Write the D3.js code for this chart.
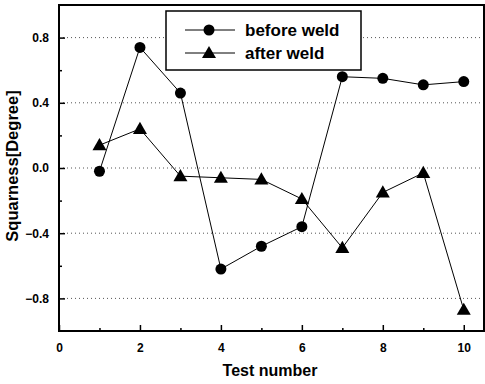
<!DOCTYPE html>
<meta charset="utf-8">
<style>
 body { margin: 0; background: #fff; }
 svg { display: block; font-family: 'Liberation Sans', Arial, sans-serif; }
 .tick text { font-size: 12px; font-weight: bold; fill: #000; }
</style>
<svg width="485" height="384"></svg>
<script src="https://d3js.org/d3.v7.min.js"></script>
<script>
 var testNumber = [1, 2, 3, 4, 5, 6, 7, 8, 9, 10];
 var beforeWeld = [-0.02, 0.74, 0.46, -0.62, -0.48, -0.36, 0.56, 0.55, 0.51, 0.53];
 var afterWeld = [0.14, 0.24, -0.05, -0.06, -0.07, -0.19, -0.49, -0.15, -0.03, -0.87];
 var xTicks = [0, 2, 4, 6, 8, 10];
 var yTicks = [-0.8, -0.4, 0.0, 0.4, 0.8];

 var svg = d3.select('svg');
 var m = {left: 59, right: 484, top: 5, bottom: 331};

 var x = d3.scaleLinear().domain([0, 10.5]).range([m.left, m.right]);
 var y = d3.scaleLinear().domain([-1, 1]).range([m.bottom, m.top]);

 // dotted grid at major y ticks
 svg.append('g').selectAll('line').data(yTicks).join('line')
     .attr('x1', m.left).attr('x2', m.right)
     .attr('y1', d => y(d)).attr('y2', d => y(d))
     .attr('stroke', '#555').attr('stroke-width', 1)
     .attr('stroke-dasharray', '1,3');

 // frame
 svg.append('rect')
     .attr('x', m.left).attr('y', m.top)
     .attr('width', m.right - m.left).attr('height', m.bottom - m.top)
     .attr('fill', 'none').attr('stroke', '#000').attr('stroke-width', 2);

 // axes, ticks pointing inward
 svg.append('g').attr('transform', 'translate(0,' + m.bottom + ')')
     .call(d3.axisBottom(x).tickValues(xTicks).tickFormat(d3.format('d')).tickSizeInner(-6).tickSizeOuter(0).tickPadding(12));
 svg.append('g').attr('transform', 'translate(0,' + m.bottom + ')')
     .call(d3.axisBottom(x).tickValues([1, 3, 5, 7, 9]).tickFormat('').tickSizeInner(-3).tickSizeOuter(0));
 svg.append('g').attr('transform', 'translate(' + m.left + ',0)')
     .call(d3.axisLeft(y).tickValues(yTicks).tickFormat(d3.format('.1f')).tickSizeInner(-6).tickSizeOuter(0).tickPadding(10));
 svg.append('g').attr('transform', 'translate(' + m.left + ',0)')
     .call(d3.axisLeft(y).tickValues([-0.6, -0.2, 0.2, 0.6]).tickFormat('').tickSizeInner(-3).tickSizeOuter(0));
 svg.selectAll('.domain').remove();
 svg.selectAll('.tick line').attr('stroke', '#000').attr('stroke-width', 1.5);

 // axis labels
 svg.append('text').attr('x', 270).attr('y', 376).attr('text-anchor', 'middle')
     .attr('font-size', 16).attr('font-weight', 'bold').text('Test number');
 svg.append('text').attr('transform', 'translate(18,166) rotate(-90)').attr('text-anchor', 'middle')
     .attr('font-size', 16.5).attr('font-weight', 'bold').text('Squarness[Degree]');

 var line = d3.line().x((d, i) => x(testNumber[i])).y(d => y(d));
 var tri = d3.symbol().type(d3.symbolTriangle).size(85);

 svg.append('path').attr('d', line(beforeWeld)).attr('fill', 'none').attr('stroke', '#000').attr('stroke-width', 1);
 svg.append('path').attr('d', line(afterWeld)).attr('fill', 'none').attr('stroke', '#000').attr('stroke-width', 1);

 svg.append('g').selectAll('circle').data(beforeWeld).join('circle')
     .attr('cx', (d, i) => x(testNumber[i])).attr('cy', d => y(d)).attr('r', 5.5).attr('fill', '#000');
 svg.append('g').selectAll('path').data(afterWeld).join('path')
     .attr('d', tri).attr('transform', (d, i) => 'translate(' + x(testNumber[i]) + ',' + (y(d) + 1) + ')').attr('fill', '#000');

 // legend
 var lg = svg.append('g');
 lg.append('rect').attr('x', 166).attr('y', 11).attr('width', 195).attr('height', 59)
     .attr('fill', '#fff').attr('stroke', '#000').attr('stroke-width', 1.5);
 [['before weld', 'circle', 30], ['after weld', 'tri', 53]].forEach(function(r) {
     lg.append('line').attr('x1', 185).attr('x2', 235).attr('y1', r[2]).attr('y2', r[2]).attr('stroke', '#000');
     if (r[1] === 'circle') lg.append('circle').attr('cx', 209).attr('cy', r[2]).attr('r', 5.5);
     else lg.append('path').attr('d', tri).attr('transform', 'translate(209,' + (r[2] + 1) + ')');
     lg.append('text').attr('x', 245).attr('y', r[2] + 6).attr('font-size', 17).attr('font-weight', 'bold').text(r[0]);
 });
</script>
